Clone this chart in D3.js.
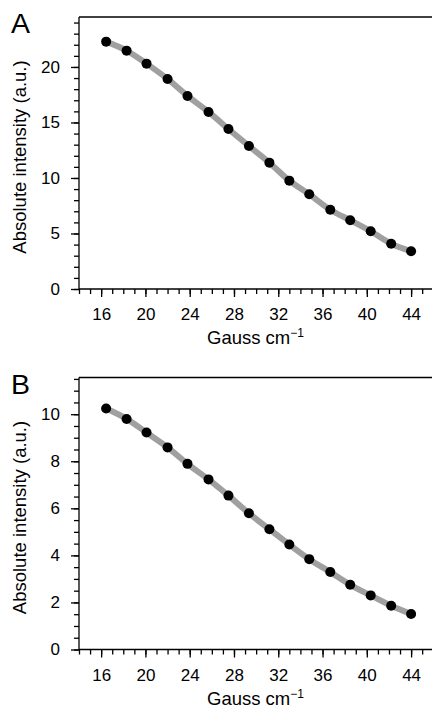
<!DOCTYPE html>
<html>
<head>
<meta charset="utf-8">
<script src="https://cdn.jsdelivr.net/npm/d3@7"></script>
<style>
  body { margin: 0; background: #fff; }
  svg { display: block; font-family: "Liberation Sans", Arial, sans-serif; }
  .axis path, .axis line { stroke: #000; stroke-width: 1.3; }
  .axis text { font-size: 17px; fill: #000; }
</style>
</head>
<body>
<div id="chart"></div>
<script>
// Data
const gradient = [16.45, 18.3, 20.1, 22.0, 23.8, 25.7, 27.5, 29.35, 31.2, 33.0, 34.8, 36.7, 38.5, 40.35, 42.2, 44.0]
const intensityA = [22.28, 21.47, 20.30, 18.92, 17.39, 15.95, 14.41, 12.88, 11.38, 9.76, 8.53, 7.14, 6.19, 5.20, 4.08, 3.40]
const intensityB = [10.24, 9.80, 9.22, 8.59, 7.89, 7.23, 6.54, 5.79, 5.11, 4.46, 3.84, 3.29, 2.75, 2.30, 1.86, 1.51]

const xTicks = [16, 20, 24, 28, 32, 36, 40, 44]
const yTicksA = [0, 5, 10, 15, 20]
const yTicksB = [0, 2, 4, 6, 8, 10]

const xTitle = 'Gauss cm'
const yTitle = 'Absolute intensity (a.u.)'

function draw(){
    const width = 432
    const height = 711

    const svg = d3.select('#chart')
        .append('svg')
        .attr('width', width)
        .attr('height', height)

    const panels = [
        {label: 'A', values: intensityA, top: 17, yMax: 24.5, major: yTicksA, minorStep: 1},
        {label: 'B', values: intensityB, top: 377.5, yMax: 11.56, major: yTicksB, minorStep: 0.5}
    ]

    const left = 79
    const right = width
    const plotH = 272

    panels.forEach(p => {
        const bottom = p.top + plotH

        const xScale = d3.scaleLinear()
            .domain([14, 14 + (right - left) / 11.07])
            .range([left, right])
        const yScale = d3.scaleLinear()
            .domain([0, p.yMax])
            .range([bottom, p.top])

        const g = svg.append('g')

        // minor ticks
        const xMinor = d3.range(14, 46, 1)
        const yMinor = d3.range(0, p.yMax, p.minorStep)

        g.append('g')
            .classed('axis', true)
            .attr('transform', `translate(0, ${bottom})`)
            .call(d3.axisBottom(xScale).tickValues(xMinor).tickSize(5).tickFormat(''))
            .call(s => s.select('.domain').remove())
        g.append('g')
            .classed('axis', true)
            .attr('transform', `translate(${left}, 0)`)
            .call(d3.axisLeft(yScale).tickValues(yMinor).tickSize(5).tickFormat(''))
            .call(s => s.select('.domain').remove())

        // major ticks + labels
        const xAxis = g.append('g')
            .classed('axis', true)
            .attr('transform', `translate(0, ${bottom})`)
            .call(d3.axisBottom(xScale).tickValues(xTicks).tickSize(8).tickSizeOuter(0).tickPadding(11))
        xAxis.select('.domain').attr('d', `M${left},0H${right}`)

        const yAxis = g.append('g')
            .classed('axis', true)
            .attr('transform', `translate(${left}, 0)`)
            .call(d3.axisLeft(yScale).tickValues(p.major).tickSize(8).tickSizeOuter(0).tickPadding(11))
        yAxis.select('.domain').attr('d', `M0,${bottom}V${p.top}`)

        // top frame line
        g.append('line')
            .attr('x1', left).attr('x2', right)
            .attr('y1', p.top).attr('y2', p.top)
            .attr('stroke', '#000')
            .attr('stroke-width', 1.5)

        // fitted curve
        const line = d3.line()
            .x((d, i) => xScale(gradient[i]))
            .y(d => yScale(d))
            .curve(d3.curveMonotoneX)
        g.append('path')
            .datum(p.values)
            .attr('d', line)
            .attr('fill', 'none')
            .attr('stroke', '#a0a0a0')
            .attr('stroke-width', 6)

        g.selectAll('circle')
            .data(p.values)
            .join('circle')
            .attr('cx', (d, i) => xScale(gradient[i]))
            .attr('cy', d => yScale(d))
            .attr('r', 5)
            .attr('fill', '#000')

        // titles
        const xt = g.append('text')
            .attr('x', (left + right) / 2)
            .attr('y', bottom + 55)
            .attr('text-anchor', 'middle')
            .style('font-size', '18.5px')
            .text(xTitle)
        xt.append('tspan')
            .attr('dy', -7)
            .style('font-size', '12px')
            .text('\u22121')

        g.append('text')
            .attr('transform', `translate(26, ${(p.top + bottom) / 2 + 4}) rotate(-90)`)
            .attr('text-anchor', 'middle')
            .style('font-size', '18.5px')
            .text(yTitle)

        g.append('text')
            .attr('x', 11)
            .attr('y', p.top + 16)
            .style('font-size', '28.5px')
            .text(p.label)
    })
}
draw()
</script>
</body>
</html>
